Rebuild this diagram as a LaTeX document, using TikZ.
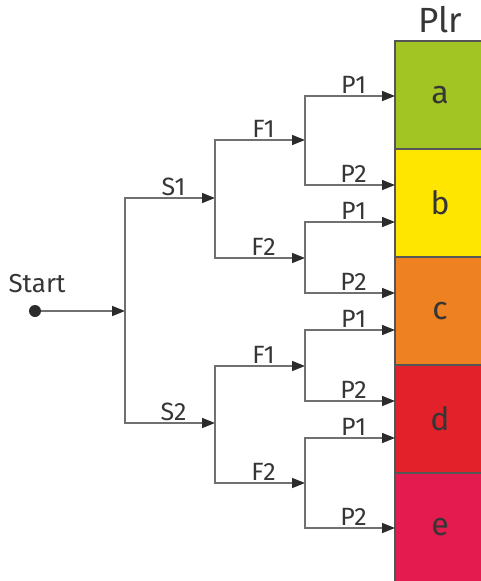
\documentclass[tikz,border=0pt]{standalone}
\usepackage{fontspec}
\setmainfont{Fira Sans}
\usetikzlibrary{arrows.meta}
\definecolor{linegray}{HTML}{707070}
\definecolor{tipgray}{HTML}{2B2B2B}
\definecolor{txt}{HTML}{363636}
\definecolor{boxgray}{HTML}{555555}
\definecolor{cA}{HTML}{A2C523}
\definecolor{cB}{HTML}{FFE600}
\definecolor{cC}{HTML}{EE8121}
\definecolor{cD}{HTML}{E3212A}
\definecolor{cE}{HTML}{E31B4F}
\begin{document}
\begin{tikzpicture}[x=1pt,y=-1pt,
  link/.style={draw=linegray, line width=1.5pt,
    -{Triangle[length=13pt,width=10pt,color=tipgray]}},
  lbl/.style={above, pos=0.77, text=txt, inner sep=1.5pt,
    font=\fontsize{25}{27}\selectfont},
  cell/.style={minimum width=110pt, minimum height=108pt, inner sep=0pt,
    outer sep=0pt},
  celltext/.style={text=txt, inner sep=0pt, font=\fontsize{32}{34}\selectfont},
  rule/.style={draw=boxgray, line width=1.2pt},
]
\useasboundingbox (0,0) rectangle (480,581);

% outcome column (runs past the right and bottom edges)
\node[text=txt, font=\fontsize{35}{37}\selectfont] (plr) at (440,20) {Plr};
\node[cell, fill=cA] (a) at (450,95)  {};
\node[cell, fill=cB] (b) at (450,203) {};
\node[cell, fill=cC] (c) at (450,311) {};
\node[cell, fill=cD] (d) at (450,419) {};
\node[cell, fill=cE, minimum height=130pt] (e) at (450,538) {};
\draw[rule] (a.north east) -- (a.north west) -- (e.south west);
\draw[rule] (a.south west) -- (a.south east);
\draw[rule] (b.south west) -- (b.south east);
\draw[rule] (c.south west) -- (c.south east);
\draw[rule] (d.south west) -- (d.south east);
\node[celltext] (a-txt) at (440,95)  {a};
\node[celltext] (b-txt) at (440,203) {b};
\node[celltext] (c-txt) at (440,311) {c};
\node[celltext] (d-txt) at (440,419) {d};
\node[celltext] (e-txt) at (440,527) {e};

% root
\node[text=txt, font=\fontsize{26}{28}\selectfont] (startlbl) at (37,284) {Start};
\node[circle, fill=tipgray, inner sep=0pt, minimum size=12pt] (start) at (35,311) {};

% branching points
\coordinate (j0)  at (125,311);
\coordinate (s1)  at (215,198);
\coordinate (s2)  at (215,423);
\coordinate (f11) at (305,140);
\coordinate (f12) at (305,258);
\coordinate (f21) at (305,366);
\coordinate (f22) at (305,483);

% leaf ends on the column
\coordinate (p111) at (395,96);
\coordinate (p112) at (395,185);
\coordinate (p121) at (395,222);
\coordinate (p122) at (395,293);
\coordinate (p211) at (395,330);
\coordinate (p212) at (395,401);
\coordinate (p221) at (395,438);
\coordinate (p222) at (395,528);

\draw[link] (start) -- (j0);
\draw[link] (j0) |- node[lbl]{S1} (s1);
\draw[link] (j0) |- node[lbl]{S2} (s2);

\draw[link] (s1) |- node[lbl]{F1} (f11);
\draw[link] (s1) |- node[lbl]{F2} (f12);
\draw[link] (s2) |- node[lbl]{F1} (f21);
\draw[link] (s2) |- node[lbl]{F2} (f22);

\draw[link] (f11) |- node[lbl]{P1} (p111);
\draw[link] (f11) |- node[lbl]{P2} (p112);
\draw[link] (f12) |- node[lbl]{P1} (p121);
\draw[link] (f12) |- node[lbl]{P2} (p122);
\draw[link] (f21) |- node[lbl]{P1} (p211);
\draw[link] (f21) |- node[lbl]{P2} (p212);
\draw[link] (f22) |- node[lbl]{P1} (p221);
\draw[link] (f22) |- node[lbl]{P2} (p222);
\end{tikzpicture}
\end{document}
